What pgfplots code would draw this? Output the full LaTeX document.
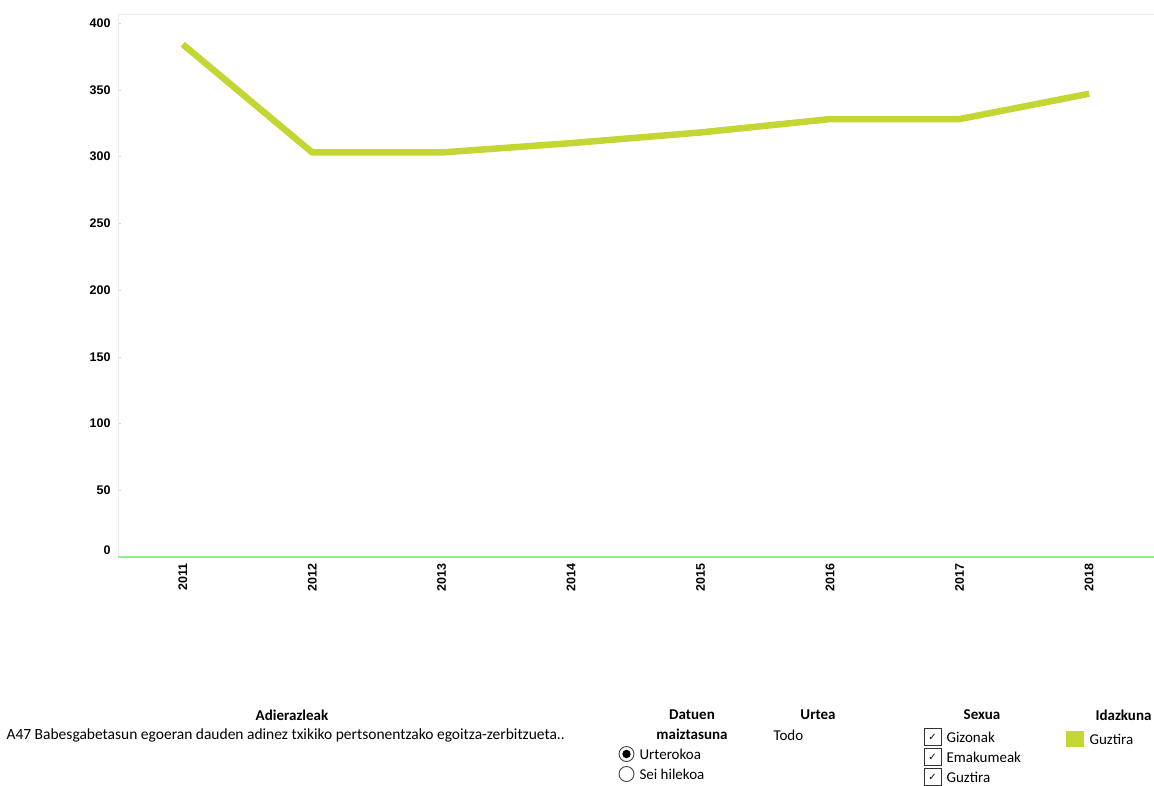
\documentclass[border=0pt]{standalone}
\usepackage{pgfplots}
\pgfplotsset{compat=1.18}
\usepackage{fontspec}
\setmainfont{Carlito}
\newfontfamily\arialf{Liberation Sans}
\newfontfamily\djv{DejaVu Sans}
\definecolor{linegreen}{HTML}{C3D633}
\definecolor{basegreen}{HTML}{90EE90}
\begin{document}
\begin{tikzpicture}[x=1pt,y=1pt]
\path[use as bounding box] (0,0) rectangle (1154,-785);
\begin{axis}[
  at={(118pt,-557pt)}, anchor=south west,
  width=1036pt, height=543pt, scale only axis,
  xmin=2010.5, xmax=2018.5, ymin=0, ymax=406.7,
  xtick={2011,...,2018},
  xticklabels={2011,2012,2013,2014,2015,2016,2017,2018},
  ytick={50,100,...,400},
  extra y ticks={0},
  extra y tick style={yticklabel style={yshift=7pt}},
  axis line style={draw=black!8},
  axis x line*=bottom, axis y line*=left,
  tick style={draw=black!15},
  major tick length=3pt,
  xtick style={draw=none},
  tick label style={font=\arialf\bfseries\fontsize{12.5}{14}\selectfont},
  xticklabel style={rotate=90, anchor=east, xshift=-3pt},
  yticklabel style={xshift=-4pt},
  /pgf/number format/assume math mode=true,
  /pgf/number format/1000 sep={},
  clip=false,
]
\addplot[draw=black!8, line width=0.6pt, forget plot] coordinates {(2010.5,406.7) (2018.5,406.7)};
\addplot[draw=basegreen, line width=2pt, forget plot] coordinates {(2010.5,0) (2018.5,0)};
\addplot[draw=linegreen, line width=6.5pt, line join=round] coordinates {
(2011,384) (2012,303) (2013,303) (2014,310) (2015,318) (2016,328) (2017,328) (2018,347)};
\end{axis}
% bottom controls
\node[font=\bfseries\fontsize{15}{17}\selectfont] at (292,-715) {Adierazleak};
\node[anchor=west, font=\fontsize{15.5}{17}\selectfont] at (3,-735) {A47 Babesgabetasun egoeran dauden adinez txikiko pertsonentzako egoitza-zerbitzueta..};
\node[font=\bfseries\fontsize{15}{20}\selectfont, align=center] at (692,-725) {Datuen\\maiztasuna};
\draw[black!75, line width=0.9pt] (626.5,-754) circle (7.5);
\fill[black] (626.5,-754) circle (4.2);
\node[anchor=west, font=\fontsize{15}{17}\selectfont] at (636,-754) {Urterokoa};
\draw[black!75, line width=0.9pt] (626.5,-774) circle (7.5);
\node[anchor=west, font=\fontsize{15}{17}\selectfont] at (636,-774) {Sei hilekoa};
\node[font=\bfseries\fontsize{15}{17}\selectfont] at (818,-715) {Urtea};
\node[anchor=west, font=\fontsize{15}{17}\selectfont] at (770,-735) {Todo};
\node[font=\bfseries\fontsize{15}{17}\selectfont] at (982,-715) {Sexua};
\foreach \yy/\lab in {737/Gizonak,757/Emakumeak,777/Guztira}{
  \draw[black!80, line width=0.9pt] (924,-\yy+8.5) rectangle (941,-\yy-8.5);
  \node[font=\djv\bfseries\fontsize{10}{12}\selectfont] at (932.5,-\yy) {✓};
  \node[anchor=west, font=\fontsize{15}{17}\selectfont] at (943,-\yy) {\lab};
}
\node[anchor=west, font=\bfseries\fontsize{15}{17}\selectfont] at (1092,-715) {Idazkuna};
\fill[linegreen] (1066,-731) rectangle (1084,-747);
\node[anchor=west, font=\fontsize{15}{17}\selectfont] at (1086,-739) {Guztira};
\end{tikzpicture}
\end{document}
